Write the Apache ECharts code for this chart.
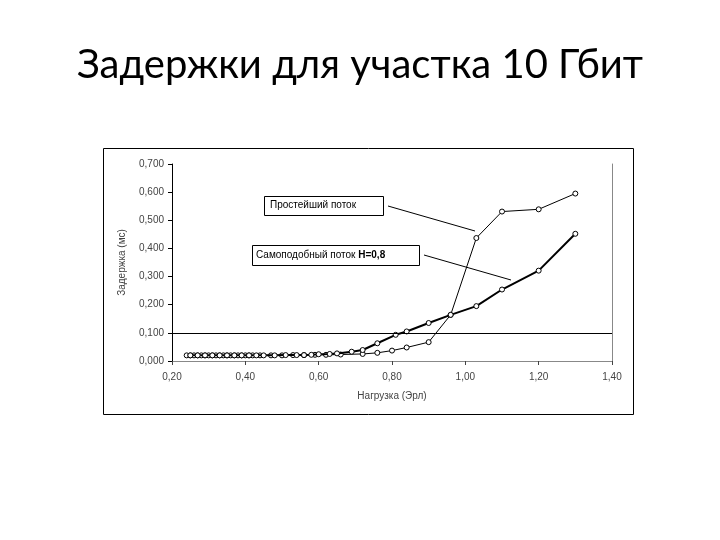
<!DOCTYPE html>
<html><head><meta charset="utf-8">
<script src="https://cdn.jsdelivr.net/npm/echarts@6/dist/echarts.min.js"></script>
<style>html,body{margin:0;padding:0;background:#fff}#c{width:720px;height:540px}</style>
</head><body><div id="c"></div>
<script>
// ---- data ----
const xTicks = [0.20, 0.40, 0.60, 0.80, 1.00, 1.20, 1.40];
const yTicks = [0, 0.1, 0.2, 0.3, 0.4, 0.5, 0.6, 0.7];
const poissonX = [0.24,0.25,0.26,0.27,0.28,0.29,0.30,0.31,0.32,0.33,0.34,0.35,0.36,0.37,0.38,0.39,0.40,0.41,0.42,0.44,0.47,0.50,0.53,0.56,0.59,0.62,0.66,0.72,0.76,0.80,0.84,0.90,0.96,1.03,1.10,1.20,1.30];
const poissonY = [0.020,0.020,0.020,0.020,0.020,0.020,0.020,0.020,0.020,0.020,0.020,0.020,0.020,0.020,0.020,0.020,0.020,0.020,0.020,0.020,0.020,0.020,0.021,0.021,0.022,0.022,0.023,0.025,0.029,0.037,0.048,0.067,0.164,0.437,0.531,0.539,0.595];
const selfSimX = [0.25,0.27,0.29,0.31,0.33,0.35,0.37,0.39,0.41,0.43,0.45,0.48,0.51,0.54,0.56,0.58,0.60,0.63,0.65,0.69,0.72,0.76,0.81,0.84,0.90,0.96,1.03,1.10,1.20,1.30];
const selfSimY = [0.020,0.020,0.020,0.020,0.020,0.020,0.020,0.020,0.020,0.020,0.020,0.020,0.021,0.021,0.021,0.022,0.024,0.025,0.027,0.033,0.039,0.063,0.093,0.105,0.135,0.164,0.195,0.254,0.321,0.452];
const refLineY = 0.1;
const labelPoisson = 'Простейший поток';
const labelSelfSim = 'Самоподобный поток ';
const labelSelfSimH = 'H=0,8';

const fmt = (v, d) => v.toFixed(d).replace('.', ',');
const zip = (xs, ys) => xs.map((x, i) => [x, ys[i]]);

const chart = echarts.init(document.getElementById('c'));
const lblColor = '#444';
const lblFont = 'Liberation Sans';
chart.setOption({
  backgroundColor: '#fff',
  animation: false,
  title: {
    text: 'Задержки для участка 10 Гбит',
    left: 'center', top: 40,
    textStyle: { fontFamily: 'Lato', fontWeight: 'normal', fontSize: 40, color: '#000' }
  },
  grid: { left: 172, right: 108, top: 164, bottom: 179, containLabel: false },
  xAxis: {
    type: 'value', min: xTicks[0], max: xTicks[xTicks.length - 1], interval: 0.2,
    name: 'Нагрузка (Эрл)', nameLocation: 'middle', nameGap: 30,
    nameTextStyle: { fontFamily: lblFont, fontSize: 10, color: lblColor },
    axisLine: { lineStyle: { color: '#888', width: 1 } },
    axisTick: { show: true, length: 4, lineStyle: { color: '#444' } },
    axisLabel: { margin: 11, fontFamily: lblFont, fontSize: 10, color: lblColor, formatter: v => fmt(v, 2) },
    splitLine: { show: false }
  },
  yAxis: [{
    type: 'value', min: yTicks[0], max: yTicks[yTicks.length - 1], interval: 0.1,
    name: 'Задержка (мс)', nameLocation: 'middle', nameGap: 45, nameRotate: 90,
    nameTextStyle: { fontFamily: lblFont, fontSize: 10, color: lblColor },
    axisLine: { show: true, lineStyle: { color: '#000', width: 1 } },
    axisTick: { show: true, length: 4, lineStyle: { color: '#000' } },
    axisLabel: { margin: 8, fontFamily: lblFont, fontSize: 10, color: lblColor, formatter: v => fmt(v, 3) },
    splitLine: { show: false }
  }, {
    type: 'value', min: yTicks[0], max: yTicks[yTicks.length - 1], interval: 0.1, position: 'right',
    axisLine: { show: true, lineStyle: { color: '#888', width: 1 } },
    axisTick: { show: false }, axisLabel: { show: false }, splitLine: { show: false }
  }],
  series: [{
    name: labelPoisson, type: 'line', data: zip(poissonX, poissonY),
    symbol: 'circle', symbolSize: 5, showSymbol: true,
    lineStyle: { color: '#000', width: 1 },
    itemStyle: { color: '#fff', borderColor: '#000', borderWidth: 1 },
    markLine: {
      silent: true, symbol: 'none', label: { show: false },
      lineStyle: { color: '#000', width: 1, type: 'solid' },
      data: [{ yAxis: refLineY }]
    },
    z: 3
  }, {
    name: labelSelfSim, type: 'line', data: zip(selfSimX, selfSimY),
    symbol: 'circle', symbolSize: 5, showSymbol: true,
    lineStyle: { color: '#000', width: 2 },
    itemStyle: { color: '#fff', borderColor: '#000', borderWidth: 1 },
    z: 4
  }],
  graphic: [
    { type: 'rect', shape: { x: 103.5, y: 148.5, width: 530, height: 266 }, style: { fill: 'none', stroke: '#000', lineWidth: 1 }, silent: true },
    // leader lines
    { type: 'line', shape: { x1: 388, y1: 206, x2: 475, y2: 231 }, style: { stroke: '#000', lineWidth: 1 } },
    { type: 'line', shape: { x1: 424, y1: 255, x2: 511, y2: 280 }, style: { stroke: '#000', lineWidth: 1 } },
    // boxes
    { type: 'rect', shape: { x: 264.5, y: 196.5, width: 119, height: 19 }, style: { fill: '#fff', stroke: '#000', lineWidth: 1 } },
    { type: 'text', left: 270, top: 200, style: { text: labelPoisson, font: '10px "Liberation Sans"', fill: '#000' } },
    { type: 'rect', shape: { x: 252.5, y: 245.5, width: 167, height: 20 }, style: { fill: '#fff', stroke: '#000', lineWidth: 1 } },
    { type: 'text', left: 256, top: 250, style: {
      text: '{a|' + labelSelfSim + '}{b|' + labelSelfSimH + '}',
      rich: { a: { font: '10px "Liberation Sans"', fill: '#000' }, b: { font: 'bold 10px "Liberation Sans"', fill: '#000' } }
    } }
  ]
});
</script></body></html>
